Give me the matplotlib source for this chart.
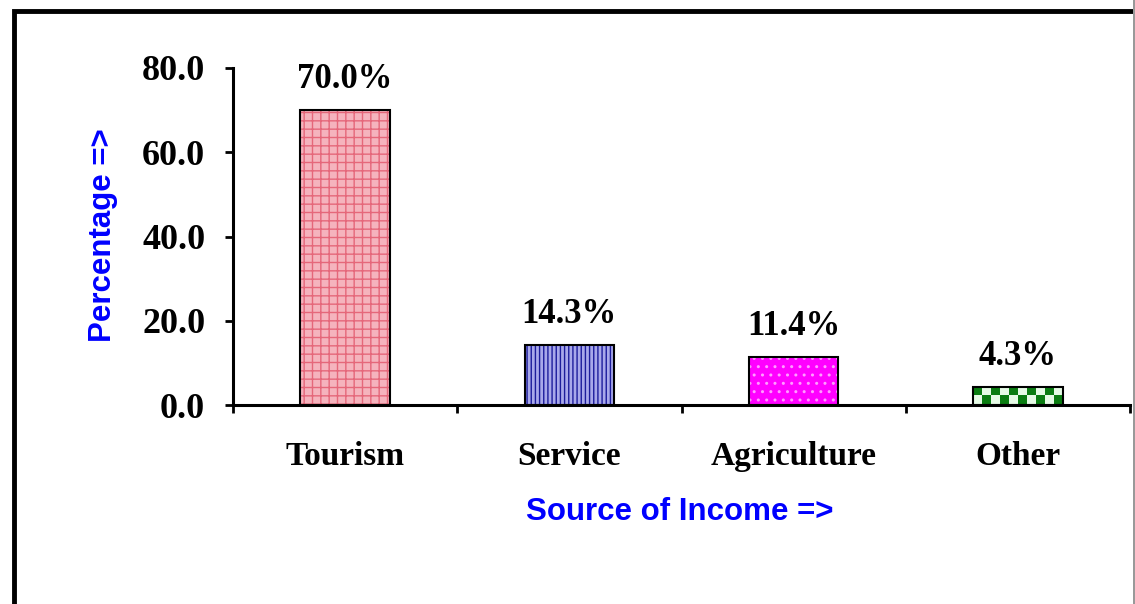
import numpy as np
import matplotlib
matplotlib.use("Agg")
import matplotlib.pyplot as plt
from matplotlib.patches import Rectangle

categories = ["Tourism", "Service", "Agriculture", "Other"]
percent = [70.0, 14.3, 11.4, 4.3]
yticks = [0.0, 20.0, 40.0, 60.0, 80.0]

serif = "Liberation Serif"
sans = "Liberation Sans"

fig = plt.figure(figsize=(11.35, 6.04), dpi=100)
fig.patch.set_facecolor("white")
ax = fig.add_axes([233 / 1135, 1 - 405 / 604, 897 / 1135, 337 / 604])

x = np.arange(len(categories))
width = 0.4

# fill styles: (face, hatch, hatch colour)
styles = [("#f5b3bd", "++", "#e5677a"),
          ("#a8a8ea", "||||", "#1c1c9c"),
          ("#ff00ff", "..", "#ff9cff"),
          (None, None, None)]

bars = ax.bar(x, percent, width, color="none", edgecolor="none", zorder=2)
for b, (fc, h, hc) in zip(bars, styles):
    bx, by = b.get_x(), b.get_y()
    bw, bh = b.get_width(), b.get_height()
    if fc is not None:
        ax.add_patch(Rectangle((bx, by), bw, bh, facecolor=fc, hatch=h,
                               edgecolor=hc, linewidth=0, zorder=2))
    else:
        # green/white checker for "Other"
        ncol, nrow = 10, 2
        chk = (np.indices((nrow, ncol)).sum(axis=0) % 2).astype(float)
        cmap = matplotlib.colors.ListedColormap(["#0b7d12", "#e6fbe6"])
        im = ax.imshow(chk, cmap=cmap, extent=(bx, bx + bw, by, by + bh),
                       aspect="auto", interpolation="nearest", zorder=2)
        im.set_clip_path(b)
    ax.add_patch(Rectangle((bx, by), bw, bh, fill=False, edgecolor="black",
                           linewidth=1.5, zorder=3))

for xi, v in zip(x, percent):
    ax.annotate(f"{v:.1f}%", (xi, v), xytext=(0, 10), textcoords="offset points",
                ha="center", va="bottom", fontsize=25, fontweight="bold",
                family=serif)

ax.set_xlim(-0.5, len(categories) - 0.5)
ax.set_ylim(0, 80)
ax.set_yticks(yticks)
ax.set_yticklabels([f"{t:.1f}" for t in yticks], fontsize=26,
                   fontweight="bold", family=serif)
ax.set_xticks(np.arange(len(categories) + 1) - 0.5)
ax.set_xticklabels([])
ax.set_xticks(x, minor=True)
ax.set_xticklabels(categories, minor=True, fontsize=24, fontweight="bold",
                   family=serif)
ax.tick_params(axis="x", which="major", direction="out", length=6, width=2)
ax.tick_params(axis="x", which="minor", length=0, pad=26)
ax.tick_params(axis="y", direction="out", length=6, width=2, pad=14)

for s in ["top", "right"]:
    ax.spines[s].set_visible(False)
for s in ["left", "bottom"]:
    ax.spines[s].set_linewidth(2.2)

fig.text(103 / 1135, 1 - 235 / 604, "Percentage =>", rotation=90,
         ha="center", va="center", color="#0000ff", fontsize=22.5,
         fontweight="bold", family=sans)
fig.text(680 / 1135, 1 - 512 / 604, "Source of Income =>", ha="center",
         va="center", color="#0000ff", fontsize=22.5, fontweight="bold",
         family=sans)

# outer frame
fig.patches.append(Rectangle((14 / 1135, -0.1), 1.2, 1.1 - 11 / 604,
                             transform=fig.transFigure, fill=False,
                             edgecolor="black", linewidth=3.5))
fig.patches.append(Rectangle((1133 / 1135, 0), 0.01, 1,
                             transform=fig.transFigure, facecolor="#999999",
                             edgecolor="none"))

fig.savefig("out.png", dpi=100)
